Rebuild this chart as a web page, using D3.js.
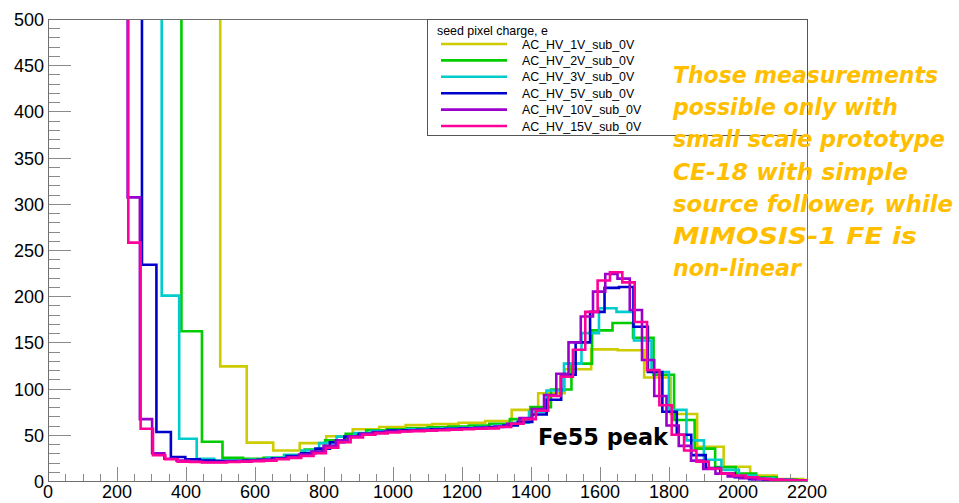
<!DOCTYPE html>
<html>
<head>
<meta charset="utf-8">
<script src="https://cdn.jsdelivr.net/npm/d3@7/dist/d3.min.js"></script>
<style>
  body { margin: 0; background: #fff; }
  svg { display: block; }
</style>
</head>
<body>
<svg id="svg1" width="959" height="503"></svg>
<script>
// histogram names (legend order)
const seriesNames = ['AC_HV_1V_sub_0V', 'AC_HV_2V_sub_0V', 'AC_HV_3V_sub_0V',
                     'AC_HV_5V_sub_0V', 'AC_HV_10V_sub_0V', 'AC_HV_15V_sub_0V'];
// charge per ADC bin (e), bin k covers (k-0.5)*gain .. (k+0.5)*gain
const gains = [76.8, 59.5, 50.7, 41.9, 35.5, 35.8];
const firstBin = 6;
// counts per bin starting at firstBin (first one is off scale)
const counts1V = [800, 124, 41.5, 33, 41, 48.5, 56, 58.5, 60.5, 61.5, 63, 65, 77, 95, 121, 142.5, 141.5,
    112, 72.5, 37, 15.5, 6, 2, 1];
const counts2V = [800, 162, 42.5, 25, 24, 25, 28, 34, 44, 51, 55, 56, 57, 58, 59, 60, 62, 67, 80, 99, 127,
    163, 171, 155, 115, 66, 35, 15, 8, 4, 1.5, 0.5];
const counts3V = [800, 200.6, 45.8, 24, 22, 22, 23, 25, 28, 33, 41, 48, 52, 54, 55, 56, 56.5, 57, 57.5, 58.5,
    60, 63, 75, 98, 127, 160, 187, 183, 152, 118, 77, 44, 23, 12, 6, 3, 1.5, 0.5];
const counts5V = [800, 234, 53, 26, 23.5, 22, 21.5, 21.5, 22, 23, 24.5, 27, 30, 35, 42, 48, 51, 53, 54.5, 55,
    55.5, 56, 56.5, 57, 57.5, 58.5, 60, 64, 72, 88, 115, 150, 183, 209, 210, 167, 118, 75, 50, 28, 14, 8, 4,
    2, 1, 1, 0.5];
const counts10V = [800, 307, 67, 30, 24, 22, 21, 20.5, 20.5, 21, 21.5, 22, 23, 24, 26, 28.5, 32, 38, 44, 48.5,
    51, 52.5, 53.5, 54, 54.5, 55, 55.5, 56, 56.5, 57, 57.5, 59, 62, 68, 78, 93, 116, 150, 178, 205, 224, 219,
    185, 131, 92, 60, 38, 22, 13, 8, 5, 3, 2, 1, 1, 0.5, 0.3];
const counts15V = [800, 258, 56.6, 27.8, 23.5, 21, 20.5, 20, 20, 20.5, 21, 21.5, 22, 23.5, 25, 27, 30, 36, 42,
    47, 50, 51.5, 52.5, 53.5, 54, 54.5, 55, 55.5, 56, 56.5, 57, 58.5, 62, 67, 76, 92, 113, 142, 183, 217, 226,
    215, 172, 120, 82, 50, 33, 21, 13.5, 8, 6, 4, 2.5, 1.5, 1, 0.5];
const allCounts = [counts1V, counts2V, counts3V, counts5V, counts10V, counts15V];
const lineColors = ['#cccc00', '#00cc00', '#00cccc', '#0000cc', '#9900cc', '#ff0099'];

const xTicks = d3.range(0, 2201, 200);
const yTicks = d3.range(0, 501, 50);

const legendTitle = 'seed pixel charge, e';
const noteLines = ['Those measurements', 'possible only with', 'small scale prototype',
    'CE-18 with simple', 'source follower, while', 'MIMOSIS-1 FE is', 'non-linear'];
const noteWidths = [265, 225, 272, 235, 280, 244, 128];
const peakLabel = 'Fe55 peak';

const svgWidth = 959, svgHeight = 503;
const margin = {left: 48, right: 152, top: 19, bottom: 22};
const innerWidth = svgWidth - margin.left - margin.right;
const innerHeight = svgHeight - margin.top - margin.bottom;

const svg = d3.select('#svg1');
const x = d3.scaleLinear().domain([0, 2200]).range([0, innerWidth]);
const y = d3.scaleLinear().domain([0, 500]).range([innerHeight, 0]);

const g = svg.append('g')
    .attr('transform', `translate(${margin.left},${margin.top})`);

g.append('clipPath').attr('id', 'frameClip')
    .append('rect')
    .attr('width', innerWidth).attr('height', innerHeight);

// ticks, ROOT style (inside the frame)
const xMinor = d3.range(0, 2201, 50).filter(v => v % 200 !== 0);
const yMinor = d3.range(0, 501, 10).filter(v => v % 50 !== 0);
const tickG = g.append('g').attr('stroke', '#8a8a8a').attr('stroke-width', 1);
tickG.selectAll('.xmaj').data(xTicks).join('line')
    .attr('x1', d => Math.round(x(d)) + 0.5).attr('x2', d => Math.round(x(d)) + 0.5)
    .attr('y1', innerHeight).attr('y2', innerHeight - 14);
tickG.selectAll('.xmin').data(xMinor).join('line')
    .attr('x1', d => Math.round(x(d)) + 0.5).attr('x2', d => Math.round(x(d)) + 0.5)
    .attr('y1', innerHeight).attr('y2', innerHeight - 7);
tickG.selectAll('.ymaj').data(yTicks).join('line')
    .attr('x1', 0).attr('x2', 23)
    .attr('y1', d => Math.round(y(d)) + 0.5).attr('y2', d => Math.round(y(d)) + 0.5);
tickG.selectAll('.ymin').data(yMinor).join('line')
    .attr('x1', 0).attr('x2', 12)
    .attr('y1', d => Math.round(y(d)) + 0.5).attr('y2', d => Math.round(y(d)) + 0.5);

// histograms
const stepLine = d3.line()
    .x(d => x(d[0]))
    .y(d => y(d[1]))
    .curve(d3.curveStepAfter);

const histG = g.append('g').attr('clip-path', 'url(#frameClip)');
allCounts.forEach((counts, i) => {
    const w = gains[i];
    const pts = counts.map((c, j) => [(firstBin + j - 0.5) * w, c]);
    pts.push([(firstBin + counts.length - 0.5) * w, counts[counts.length - 1]]);
    histG.append('path')
        .attr('d', stepLine(pts))
        .attr('fill', 'none')
        .attr('stroke', lineColors[i])
        .attr('stroke-width', 2.6);
});

// frame
g.append('rect')
    .attr('x', 0.5).attr('y', 0.5)
    .attr('width', innerWidth).attr('height', innerHeight)
    .attr('fill', 'none').attr('stroke', '#707070');

// axis labels
g.selectAll('.xlab').data(xTicks).join('text')
    .attr('x', d => x(d)).attr('y', innerHeight + 16.5)
    .attr('text-anchor', 'middle')
    .attr('font-family', 'Liberation Sans, Arial, sans-serif')
    .attr('font-size', 18)
    .text(d => d);
g.selectAll('.ylab').data(yTicks).join('text')
    .attr('x', -4).attr('y', d => y(d) + 7)
    .attr('text-anchor', 'end')
    .attr('font-family', 'Liberation Sans, Arial, sans-serif')
    .attr('font-size', 18)
    .text(d => d);

// legend
const leg = g.append('g').attr('transform', `translate(${379},0)`);
leg.append('rect')
    .attr('x', 0.5).attr('y', 0.5)
    .attr('width', innerWidth - 379).attr('height', 116)
    .attr('fill', '#fff').attr('stroke', '#555');
leg.append('text')
    .attr('x', 10).attr('y', 16)
    .attr('font-family', 'Liberation Sans, Arial, sans-serif')
    .attr('font-size', 12.4)
    .text(legendTitle);
const entries = leg.selectAll('.entry').data(seriesNames).join('g')
    .attr('transform', (d, i) => `translate(0,${25 + i * 16.4})`);
entries.append('line')
    .attr('x1', 14).attr('x2', 80)
    .attr('stroke', (d, i) => lineColors[i]).attr('stroke-width', 2.6);
entries.append('text')
    .attr('x', 95).attr('y', 4.5)
    .attr('font-family', 'Liberation Sans, Arial, sans-serif')
    .attr('font-size', 12.4)
    .text(d => d);

// annotations
svg.append('g').selectAll('text').data(noteLines).join('text')
    .attr('x', 673)
    .attr('y', (d, i) => 83 + i * 32.2)
    .attr('textLength', (d, i) => noteWidths[i])
    .attr('lengthAdjust', 'spacingAndGlyphs')
    .attr('font-family', 'DejaVu Sans, sans-serif')
    .attr('font-style', 'italic')
    .attr('font-weight', 'bold')
    .attr('font-size', 23)
    .attr('fill', '#ffbf00')
    .text(d => d);

svg.append('text')
    .attr('x', 538).attr('y', 445)
    .attr('textLength', 130)
    .attr('lengthAdjust', 'spacingAndGlyphs')
    .attr('font-family', 'DejaVu Sans, sans-serif')
    .attr('font-weight', 'bold')
    .attr('font-size', 23)
    .attr('fill', '#000')
    .text(peakLabel);
</script>
</body>
</html>
